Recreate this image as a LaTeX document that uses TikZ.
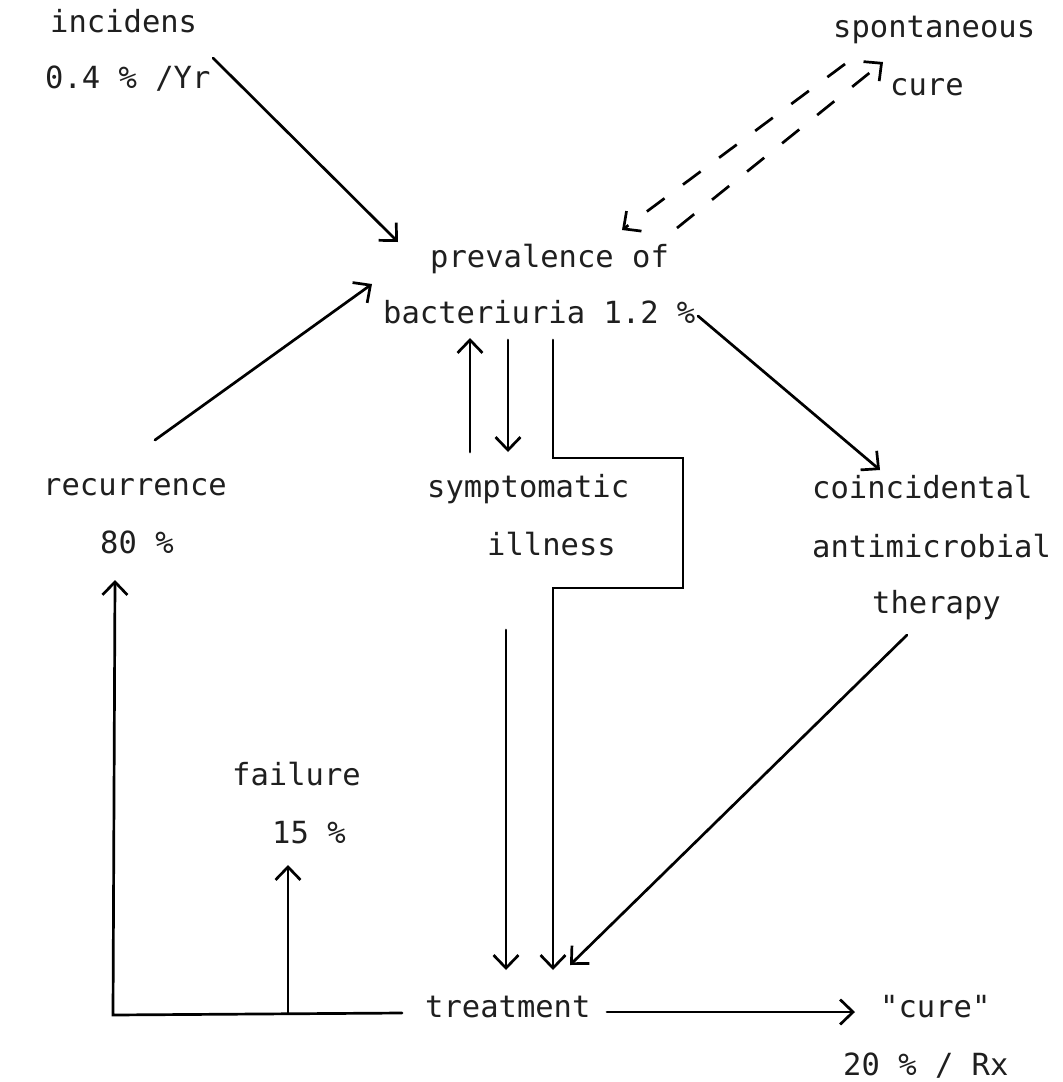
\documentclass[tikz,border=0pt]{standalone}
\usepackage{fontspec}
\newfontfamily\typewr{DejaVu Sans Mono}
\usetikzlibrary{arrows.meta}
\begin{document}
\begin{tikzpicture}[x=1pt,y=-1pt,
  lbl/.style={anchor=base west,inner sep=0pt,text=black!88,
    font=\typewr\fontsize{30.5}{36}\selectfont},
  plain/.style={line width=2.7pt,line cap=round,line join=miter},
  flow/.style={plain,-{Straight Barb[length=13pt,width=25pt]}},
  dashflow/.style={flow,dash pattern=on 22pt off 23pt,line cap=butt}]
\useasboundingbox[fill=white] (0,0) rectangle (1063,1082);

% labels
\node[lbl] (inc1)  at (50,32)   {incidens};
\node[lbl] (inc2)  at (45,88)   {0.4 \% /Yr};
\node[lbl] (spon1) at (833,37)  {spontaneous};
\node[lbl] (spon2) at (890,95)  {cure};
\node[lbl] (prev1) at (430,267) {prevalence of};
\node[lbl] (prev2) at (383,323) {bacteriuria 1.2 \%};
\node[lbl] (rec1)  at (43,495)  {recurrence};
\node[lbl] (rec2)  at (100,553) {80 \%};
\node[lbl] (symp1) at (427,497) {symptomatic};
\node[lbl] (symp2) at (487,555) {illness};
\node[lbl] (coin1) at (812,498) {coincidental};
\node[lbl] (coin2) at (812,557) {antimicrobial};
\node[lbl] (coin3) at (872,613) {therapy};
\node[lbl] (fail1) at (232,785) {failure};
\node[lbl] (fail2) at (272,843) {15 \%};
\node[lbl] (treat) at (425,1017) {treatment};
\node[lbl] (cure1) at (880,1017) {"cure"};
\node[lbl] (cure2) at (843,1075) {20 \% / Rx};

% connector end points
\coordinate (incS)   at (213,58);
\coordinate (incE)   at (398,242);
\coordinate (sponA)  at (845,64);
\coordinate (sponB)  at (622,230);
\coordinate (sponC)  at (677,228);
\coordinate (sponD)  at (883,62);
\coordinate (recS)   at (155,440);
\coordinate (recE)   at (372,284);
\coordinate (coinS)  at (698,316);
\coordinate (coinE)  at (880,470);
\coordinate (upS)    at (470,452);
\coordinate (upE)    at (470,338);
\coordinate (dnS)    at (508,340);
\coordinate (dnE)    at (508,452);
\coordinate (brS)    at (553,340);
\coordinate (brA)    at (553,458);
\coordinate (brB)    at (683,458);
\coordinate (brC)    at (683,588);
\coordinate (brD)    at (553,588);
\coordinate (brE)    at (553,970);
\coordinate (sympS)  at (506,630);
\coordinate (sympE)  at (506,970);
\coordinate (therS)  at (907,635);
\coordinate (therE)  at (570,965);
\coordinate (trR)    at (607,1012);
\coordinate (trRE)   at (855,1012);
\coordinate (trL)    at (402,1013);
\coordinate (corner) at (113,1015);
\coordinate (recUp)  at (115,580);
\coordinate (failS)  at (288,1013);
\coordinate (failE)  at (288,865);

% arrows
\draw[flow] (incS) -- (incE);
\draw[dashflow] (sponA) -- (sponB);
\draw[dashflow] (sponC) -- (sponD);
\draw[flow] (recS) -- (recE);
\draw[flow] (coinS) -- (coinE);
\draw[flow] (upS) -- (upE);
\draw[flow] (dnS) -- (dnE);
\draw[flow] (brS) -- (brA) -- (brB) -- (brC) -- (brD) -- (brE);
\draw[flow] (sympS) -- (sympE);
\draw[flow] (therS) -- (therE);
\draw[flow] (trR) -- (trRE);
\draw[flow] (trL) -- (corner) -- (recUp);
\draw[flow] (failS) -- (failE);
\end{tikzpicture}
\end{document}
